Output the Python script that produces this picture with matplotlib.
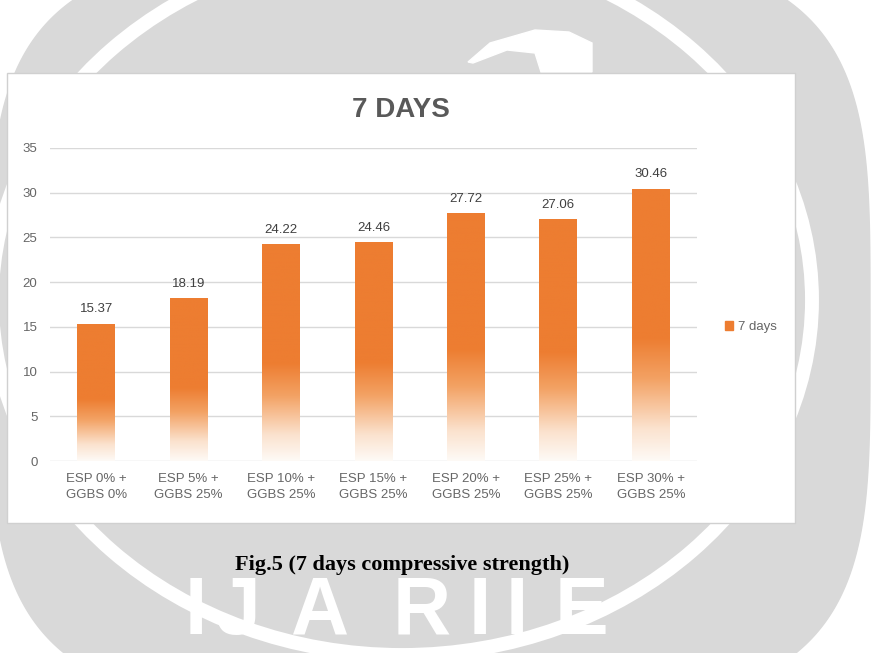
import numpy as np
import matplotlib
matplotlib.use('Agg')
import matplotlib.pyplot as plt
from matplotlib.colors import LinearSegmentedColormap
from matplotlib.patches import Rectangle, Ellipse, Polygon, Patch

# chart data
mixes = ['ESP 0% +\nGGBS 0%', 'ESP 5% +\nGGBS 25%', 'ESP 10% +\nGGBS 25%',
         'ESP 15% +\nGGBS 25%', 'ESP 20% +\nGGBS 25%', 'ESP 25% +\nGGBS 25%',
         'ESP 30% +\nGGBS 25%']
strength_7d = [15.37, 18.19, 24.22, 24.46, 27.72, 27.06, 30.46]
y_ticks = [0, 5, 10, 15, 20, 25, 30, 35]
series_name = '7 days'
chart_title = '7 DAYS'
caption = 'Fig.5 (7 days compressive strength)'

W, H = 884, 653
orange = '#ED7D31'
grid_col = '#d9d9d9'
txt_col = '#666666'
sans = ['Liberation Sans', 'DejaVu Sans']

fig = plt.figure(figsize=(W / 100, H / 100), dpi=100)
fig.patch.set_facecolor('white')

""" ---------------- page background (watermark, chart box, caption) ---------------- """
bg = fig.add_axes([0, 0, 1, 1])
bg.set_xlim(0, W)
bg.set_ylim(H, 0)
bg.axis('off')

# grey seal-shaped watermark (superellipse)
t = np.linspace(0, 2 * np.pi, 400)
n = 4.0
cx, cy, a, b = 430, 330, 440, 380
sx = cx + a * np.sign(np.cos(t)) * np.abs(np.cos(t)) ** (2 / n)
sy = cy + b * np.sign(np.sin(t)) * np.abs(np.sin(t)) ** (2 / n)
bg.fill(sx, sy, color='#d9d9d9', zorder=0)
bg.add_patch(Ellipse((402, 300), 820, 710, fill=False, ec='white', lw=10, zorder=1))
beak = [(468, 62), (490, 43), (535, 30), (569, 32), (592, 43), (592, 72),
        (541, 72), (535, 53), (507, 50), (473, 63)]
bg.add_patch(Polygon(beak, closed=True, color='white', zorder=1))
for ch, xc in zip('IJARIIE', [196, 238, 320, 422, 480, 517, 582]):
    bg.text(xc, 651, ch, color='white', fontsize=58, fontweight='bold',
            family=sans, ha='center', va='bottom', zorder=1)

# white chart box
bg.add_patch(Rectangle((7, 73), 788, 450, fc='white', ec='#d0d0d0', lw=1, zorder=2))
bg.text(401, 110, chart_title, fontsize=20, fontweight='bold', color='#595959',
        family=sans, ha='center', va='center', zorder=3)
bg.text(402, 565, caption, fontsize=16, fontweight='bold', color='black',
        family=['Liberation Serif', 'DejaVu Serif'], ha='center', va='center', zorder=3)

""" ---------------------------- bar chart ---------------------------- """
ax = fig.add_axes([50 / W, 1 - 461 / H, 647 / W, 313 / H], zorder=5)
ax.patch.set_alpha(0)

x = np.arange(len(mixes))
bars = ax.bar(x, strength_7d, width=0.41, color='none', edgecolor='none', zorder=3)

# vertical gradient fill like the Excel bars
fade = LinearSegmentedColormap.from_list(
    'fade', [(0, '#fefaf6'), (0.12, '#fbe2ce'), (0.3, '#f3a264'),
             (0.45, orange), (1, orange)])
grad = np.linspace(0, 1, 256).reshape(-1, 1)
for r in bars:
    x0, w, h = r.get_x(), r.get_width(), r.get_height()
    im = ax.imshow(grad, cmap=fade, aspect='auto', origin='lower',
                   extent=[x0, x0 + w, 0, h], zorder=3)
    im.set_clip_path(r)

for xi, v in zip(x, strength_7d):
    ax.annotate(f'{v:.2f}', (xi, v), xytext=(0, 6), textcoords='offset points',
                ha='center', va='bottom', fontsize=9.5, color='#404040', family=sans)

ax.set_xlim(-0.5, len(mixes) - 0.5)
ax.set_ylim(0, 35)
ax.set_yticks(y_ticks)
ax.set_xticks(x)
ax.set_xticklabels(mixes, linespacing=1.35)
ax.yaxis.grid(True, color=grid_col, lw=1)
ax.set_axisbelow(True)
for s in ax.spines.values():
    s.set_visible(False)
ax.tick_params(length=0, labelsize=9.5, labelcolor=txt_col)
ax.tick_params(axis='y', pad=9)
ax.tick_params(axis='x', pad=9)
for lab in ax.get_xticklabels() + ax.get_yticklabels():
    lab.set_family(sans)

ax.legend(handles=[Patch(color=orange, label=series_name)], loc='center left',
          bbox_to_anchor=(725 / W, 1 - 327 / H), bbox_transform=fig.transFigure,
          frameon=False, labelcolor=txt_col, handlelength=0.6,
          handleheight=0.6, handletextpad=0.4, borderaxespad=0, borderpad=0,
          prop={'family': sans, 'size': 9.5})

fig.savefig('out.png', dpi=100)
